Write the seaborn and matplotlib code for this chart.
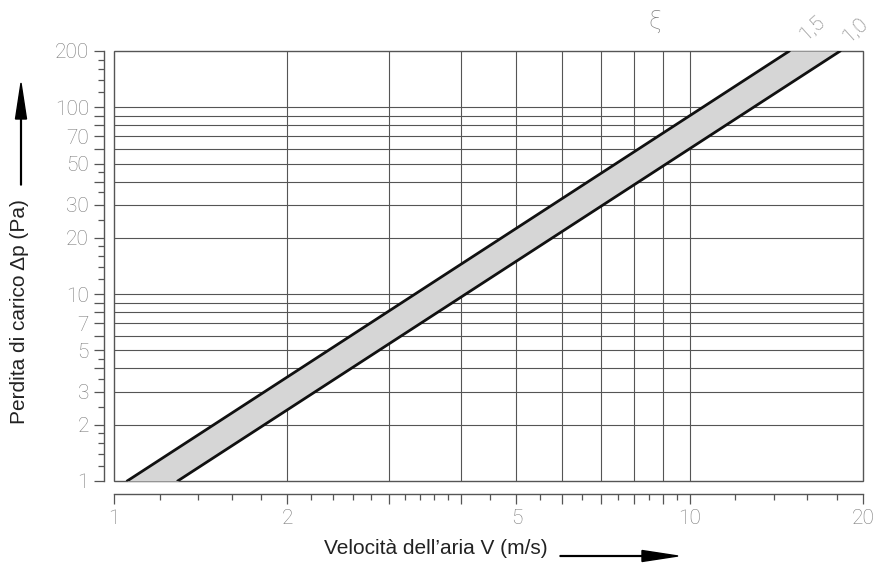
import numpy as np
import pandas as pd
import matplotlib
matplotlib.use('Agg')
import matplotlib.pyplot as plt
from matplotlib.patches import Rectangle, FancyArrow
from matplotlib.ticker import FixedLocator, NullFormatter, FixedFormatter
import seaborn as sns

# Data: Δp endpoints and the velocities at those points
dp_ends = [1, 200]
v_xi_15 = [1.054, 14.9]    # ξ = 1,5
v_xi_10 = [1.29, 18.26]    # ξ = 1,0
xi_labels = ['1,5', '1,0']

x_major = [1, 2, 3, 4, 5, 6, 7, 8, 9, 10, 20]
x_labels = ['1', '2', '', '', '5', '', '', '', '', '10', '20']
x_minor = [1.2, 1.4, 1.6, 1.8, 2.2, 2.4, 2.6, 2.8, 3.2, 3.4, 3.6, 3.8, 4.5,
           5.5, 6.5, 7.5, 8.5, 9.5, 12, 14, 16, 18]
y_major = [1, 2, 3, 4, 5, 6, 7, 8, 9, 10, 20, 30, 40, 50, 60, 70, 80, 90, 100, 200]
y_labels = ['1', '2', '3', '', '5', '', '7', '', '', '10', '20', '30', '', '50', '',
            '70', '', '', '100', '200']
y_minor = [1.2, 1.4, 1.6, 1.8, 2.5, 3.5, 4.5, 12, 14, 16, 18, 25, 35, 45,
           120, 140, 160, 180]

df = pd.DataFrame({
    'v': v_xi_15 + v_xi_10,
    'dp': dp_ends + dp_ends,
    'xi': [xi_labels[0]] * 2 + [xi_labels[1]] * 2,
})

sns.set_style('white')
plt.rcParams['font.family'] = ['Liberation Sans', 'DejaVu Sans']
thin = dict(family=['Roboto', 'DejaVu Sans'], fontweight='light')

W, H = 879, 567
fig = plt.figure(figsize=(W / 100, H / 100), dpi=100)
ax = fig.add_axes([114 / W, (H - 481) / H, (863 - 114) / W, (481 - 51) / H])
ax.set_xscale('log')
ax.set_yscale('log')
ax.set_xlim(1, 20)
ax.set_ylim(1, 200)

grid_c = '#555555'
tick_c = '#7a7a7a'

# grid lines
for xv in x_major[1:-1]:
    ax.axvline(xv, color=grid_c, lw=0.8, zorder=1)
for yv in y_major[1:-1]:
    ax.axhline(yv, color=grid_c, lw=0.8, zorder=1)
ax.add_patch(Rectangle((0, 0), 1, 1, transform=ax.transAxes, fill=False,
                       edgecolor=grid_c, lw=1.0, zorder=1, clip_on=False))

# band between the two curves
ax.fill_betweenx(dp_ends, v_xi_15, v_xi_10, color='#d6d6d6', lw=0, zorder=2)
sns.lineplot(data=df, x='v', y='dp', hue='xi', palette=['#111111', '#111111'],
             sort=False, lw=2.0, legend=False, ax=ax, zorder=3)

# curve labels at top
for lab, v in zip(xi_labels, [v_xi_15[-1], v_xi_10[-1]]):
    off = (23, 23) if lab == '1,5' else (15, 21)
    ax.annotate(lab, xy=(v, dp_ends[-1]), xytext=off, textcoords='offset pixels',
                ha='center', va='center', rotation=42, fontsize=15,
                color=tick_c, annotation_clip=False, **thin)
ax.text(8.7, 1.067, 'ξ', transform=ax.get_xaxis_transform(), ha='center',
        va='center', fontsize=18, color=tick_c, **thin)

# offset axes with ticks
sns.despine(ax=ax, top=True, right=True, offset={'left': 7, 'bottom': 9})
for s in ['left', 'bottom']:
    ax.spines[s].set_color(grid_c)
    ax.spines[s].set_linewidth(1.0)
ax.xaxis.set_major_locator(FixedLocator(x_major))
ax.xaxis.set_major_formatter(FixedFormatter(x_labels))
ax.xaxis.set_minor_locator(FixedLocator(x_minor))
ax.xaxis.set_minor_formatter(NullFormatter())
ax.yaxis.set_major_locator(FixedLocator(y_major))
ax.yaxis.set_major_formatter(FixedFormatter(y_labels))
ax.yaxis.set_minor_locator(FixedLocator(y_minor))
ax.yaxis.set_minor_formatter(NullFormatter())
ax.tick_params(which='major', direction='out', length=7, width=0.9, color=grid_c,
               labelsize=15, labelcolor=tick_c, pad=4, bottom=True, left=True)
ax.tick_params(which='minor', direction='out', length=4.5, width=0.9, color=grid_c,
               bottom=True, left=True)
for t in ax.get_xticklabels() + ax.get_yticklabels():
    t.set_family(thin['family'])
    t.set_fontweight('light')
ax.set_xlabel('')
ax.set_ylabel('')

# overlay in pixel coordinates for axis titles and arrows
ov = fig.add_axes([0, 0, 1, 1], zorder=-1)
ov.set_xlim(0, W)
ov.set_ylim(H, 0)
ov.axis('off')
ov.text(436, 549, 'Velocità dell\u2019aria V (m/s)', ha='center', va='center',
        fontsize=15, color='#222222')
ov.text(20, 312, 'Perdita di carico Δp (Pa)', ha='center', va='center',
        rotation=90, fontsize=15, color='#222222')
ov.add_patch(FancyArrow(560, 556, 118, 0, width=0.8, head_width=11, head_length=36,
                        length_includes_head=True, color='black'))
ov.add_patch(FancyArrow(21, 185, 0, -102, width=0.8, head_width=11, head_length=36,
                        length_includes_head=True, color='black'))

fig.savefig('out.png', dpi=100)
